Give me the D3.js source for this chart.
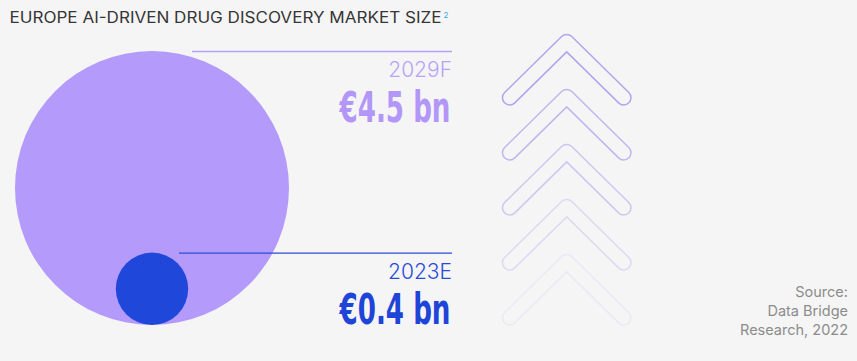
<!DOCTYPE html>
<html><head><meta charset="utf-8">
<script src="https://cdn.jsdelivr.net/npm/d3@7"></script>
<style>
html,body{margin:0;padding:0;background:#f5f5f5;}
svg{display:block;}
</style></head>
<body>
<svg id="chart" width="857" height="361"></svg>
<script>
// ---- data ----
const title = "EUROPE AI-DRIVEN DRUG DISCOVERY MARKET SIZE";
const titleNote = "2";
const years = ["2029F", "2023E"];
const values = [4.5, 0.4];
const valueLabels = ["€4.5 bn", "€0.4 bn"];
const sourceLines = ["Source:", "Data Bridge", "Research, 2022"];
const chevrons = [0, 1, 2, 3, 4];

// ---- layout / style ----
const W = 857, H = 361;
const colors = ["#b49afa", "#1f48db"];
const labelColors = ["#b9a3f6", "#2a4bd8"];
const valueColors = ["#b297f8", "#1f44d8"];
const lineColors = ["#b7a2f5", "#2c4ad2"];
const lineStart = [192, 179];
const cx = 152, bottomY = 325;
const textRight = 452;

const svg = d3.select("#chart");
svg.append("rect").attr("width", W).attr("height", H).attr("fill", "#f5f5f5");

const r = d3.scalePow().exponent(0.55).domain([0, d3.max(values)]).range([0, 137]);

// title
svg.append("text").attr("x", 9.5).attr("y", 23)
  .attr("font-family", "Inter, 'Noto Sans', sans-serif")
  .attr("font-size", 15.5).attr("fill", "#363636")
  .attr("textLength", 432).attr("lengthAdjust", "spacingAndGlyphs")
  .text(title);
svg.append("text").attr("x", 443.5).attr("y", 18)
  .attr("font-family", "Inter, sans-serif").attr("font-size", 8)
  .attr("fill", "#3aa6e2").text(titleNote);

// circles
const items = years.map((y, i) => ({year: y, value: values[i], label: valueLabels[i], i}));
svg.selectAll("circle.bub").data(items).join("circle")
  .attr("class", "bub")
  .attr("cx", cx)
  .attr("cy", d => bottomY - r(d.value))
  .attr("r", d => r(d.value))
  .attr("fill", d => colors[d.i]);

// leader lines at circle tops
svg.selectAll("line.lead").data(items).join("line")
  .attr("class", "lead")
  .attr("x1", d => lineStart[d.i]).attr("x2", textRight)
  .attr("y1", d => bottomY - 2 * r(d.value) + 0.5)
  .attr("y2", d => bottomY - 2 * r(d.value) + 0.5)
  .attr("stroke", d => lineColors[d.i]).attr("stroke-width", 1.3);

// year labels
svg.selectAll("text.year").data(items).join("text")
  .attr("class", "year")
  .attr("x", textRight).attr("text-anchor", "end")
  .attr("y", d => bottomY - 2 * r(d.value) + 26)
  .attr("font-family", "Inter, sans-serif").attr("font-weight", 300)
  .attr("font-size", 21).attr("fill", d => labelColors[d.i])
  .text(d => d.year);

// value labels
svg.selectAll("text.val").data(items).join("text")
  .attr("class", "val")
  .attr("x", 339.5).attr("y", d => bottomY - 2 * r(d.value) + 71)
  .attr("font-family", "'DejaVu Sans Condensed', 'DejaVu Sans', sans-serif")
  .attr("font-stretch", "condensed")
  .attr("font-weight", "bold").attr("font-size", 43)
  .attr("textLength", 111).attr("lengthAdjust", "spacingAndGlyphs")
  .attr("fill", d => valueColors[d.i])
  .text(d => d.label);

// chevrons
const chevX = 566.7, chevY0 = 41.7, chevStep = 55, armDx = 57, armDy = 56;
const opac = d3.scaleLinear().domain([0, 4]).range([0.85, 0.12]);
const g = svg.append("g");
chevrons.forEach(k => {
  const y = chevY0 + k * chevStep;
  const p = d3.path();
  p.moveTo(chevX - armDx, y + armDy);
  p.lineTo(chevX, y);
  p.lineTo(chevX + armDx, y + armDy);
  g.append("path").attr("d", p.toString()).attr("fill", "none")
    .attr("stroke", "#a597ec").attr("stroke-opacity", opac(k))
    .attr("stroke-width", 16).attr("stroke-linecap", "round").attr("stroke-linejoin", "round");
  g.append("path").attr("d", p.toString()).attr("fill", "none")
    .attr("stroke", "#f5f5f5")
    .attr("stroke-width", 13).attr("stroke-linecap", "round").attr("stroke-linejoin", "round");
});

// source
svg.append("text").attr("text-anchor", "end")
  .attr("font-family", "Inter, sans-serif").attr("font-size", 14.5)
  .attr("fill", "#8c8c8c")
  .selectAll("tspan").data(sourceLines).join("tspan")
  .attr("x", 848).attr("y", (d, i) => 297.3 + i * 18.8)
  .text(d => d);
</script>
</body></html>
